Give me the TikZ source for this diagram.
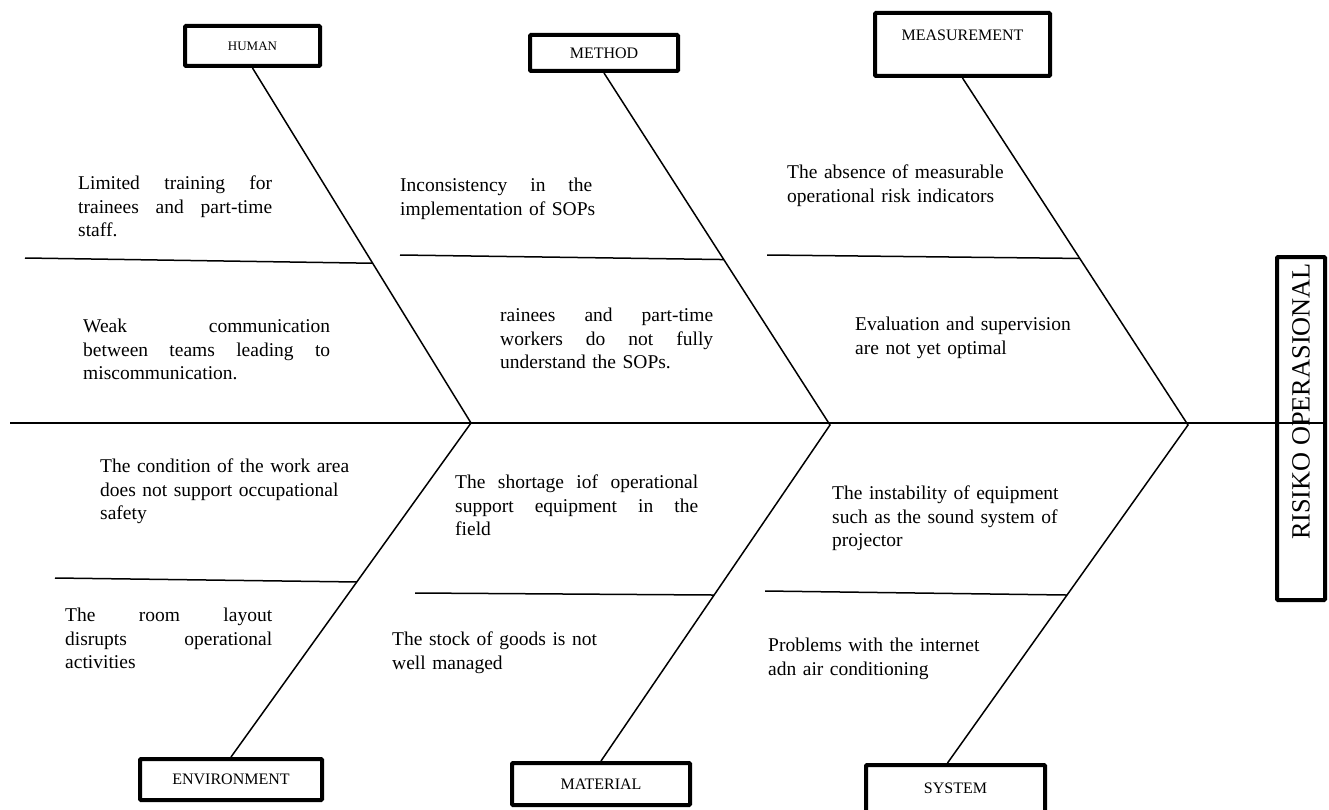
\documentclass[tikz,border=0pt]{standalone}
\usepackage{fontspec}
\setmainfont{Liberation Serif}
\usetikzlibrary{calc}
% stretch one line of a cause text to a given width
\newcommand{\jl}[2]{{\spaceskip=0pt\xspaceskip=0pt\makebox[#1][s]{#2}}}

\begin{document}
\begin{tikzpicture}[x=1pt,y=-1pt,
  catbox/.style={draw,line width=4pt,rounded corners=1pt,inner sep=0pt,
    font=\fontsize{16}{19}\selectfont},
  cause/.style={anchor=north west,inner sep=0pt,align=left,text width=270pt,
    font=\fontsize{19.5}{23.5}\selectfont},
  bone/.style={line width=1.5pt}]
  \useasboundingbox (0,0) rectangle (1329,810);
  % category boxes
  \node[catbox,minimum width=135pt,minimum height=40pt,
    font=\fontsize{13}{15}\selectfont] (human) at (252.5,46) {HUMAN};
  \node[catbox,minimum width=148pt,minimum height=36pt] (method) at (604,53) {METHOD};
  \node[catbox,minimum width=175pt,minimum height=63pt,anchor=north,
    text depth=19pt] (measure) at (962.5,11) {MEASUREMENT};
  \node[catbox,minimum width=182pt,minimum height=41pt] (env) at (231,779.5) {ENVIRONMENT};
  \node[catbox,minimum width=178pt,minimum height=42pt] (material) at (601,784) {MATERIAL};
  \node[catbox,minimum width=179pt,minimum height=47pt] (system) at (955.5,788.5) {SYSTEM};
  % effect
  \node[catbox,rotate=90,minimum width=343pt,minimum height=48pt,
    font=\fontsize{26.3}{30}\selectfont] (risk) at (1301,428.5)
    {\hspace*{54pt}RISIKO OPERASIONAL};
  % spine and joints
  \coordinate (tail) at (10,423);
  \coordinate (jh) at (471,423);
  \coordinate (jm) at (830,425);
  \coordinate (jr) at (1188,425);
  \draw[line width=2pt] (tail) -- (tail -| risk.south);
  % main bones
  \draw[bone] (human.south) -- (jh) -- (env.north);
  \draw[bone] (method.south) -- (jm) -- (material.north);
  \draw[bone] (measure.south) -- (jr) -- ([xshift=-8pt]system.north);
  % small bones
  \coordinate (h1) at (25,258);
  \coordinate (m1) at (400,255);
  \coordinate (r1) at (767,255);
  \coordinate (e1) at (55,578);
  \coordinate (t1) at (415,593);
  \coordinate (s1) at (765,591);
  \draw[bone] (h1) -- ($(human.south)!0.55!(jh)$);
  \draw[bone] (m1) -- ($(method.south)!0.53!(jm)$);
  \draw[bone] (r1) -- ($(measure.south)!0.52!(jr)$);
  \draw[bone] (e1) -- ($(jh)!0.476!(env.north)$);
  \draw[bone] (t1) -- ($(jm)!0.506!(material.north)$);
  \draw[bone] (s1) -- ($(jr)!0.503!([xshift=-8pt]system.north)$);
  % causes, upper half
  \node[cause] (c1) at (78,176)
    {\jl{194pt}{Limited training for}\\ \jl{194pt}{trainees and part-time}\\ staff.};
  \node[cause] (c2) at (83,319)
    {\jl{247pt}{Weak communication}\\ \jl{247pt}{between teams leading to}\\ miscommunication.};
  \node[cause] (c3) at (400,178)
    {\jl{192pt}{Inconsistency in the}\\ implementation of SOPs};
  \node[cause] (c4) at (500,308)
    {\jl{213pt}{rainees and part-time}\\ \jl{213pt}{workers do not fully}\\ understand the SOPs.};
  \node[cause] (c5) at (787,165)
    {The absence of measurable\\ operational risk indicators};
  \node[cause] (c6) at (855,317)
    {Evaluation and supervision\\ are not yet optimal};
  % causes, lower half
  \node[cause] (c7) at (100,459)
    {The condition of the work area\\ does not support occupational\\ safety};
  \node[cause] (c8) at (65,608)
    {\jl{207pt}{The room layout}\\ \jl{207pt}{disrupts operational}\\ activities};
  \node[cause] (c9) at (455,475)
    {\jl{243pt}{The shortage iof operational}\\ \jl{243pt}{support equipment in the}\\ field};
  \node[cause] (c10) at (392,632)
    {The stock of goods is not\\ well managed};
  \node[cause] (c11) at (832,486)
    {The instability of equipment\\ such as the sound system of\\ projector};
  \node[cause] (c12) at (768,638)
    {Problems with the internet\\ adn air conditioning};
\end{tikzpicture}
\end{document}
